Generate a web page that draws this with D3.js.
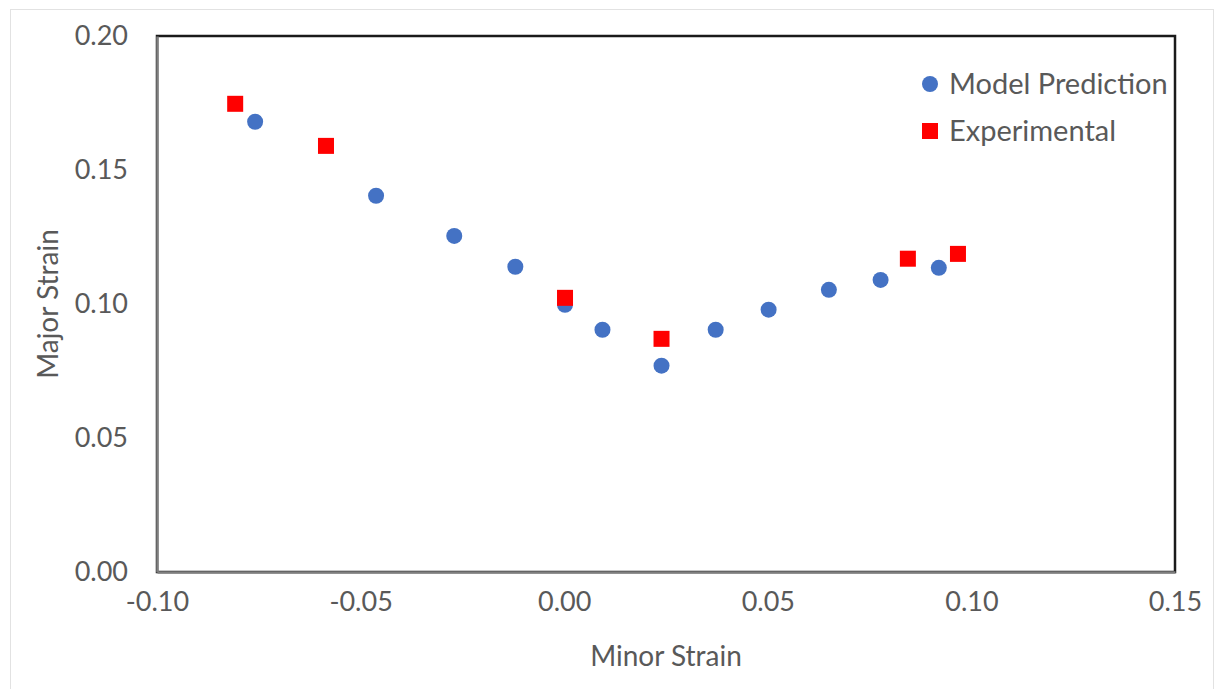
<!DOCTYPE html>
<html lang='en'>
    <head>
        <meta charset='utf-8'>
        <title>Major vs Minor Strain</title>
        <script src="https://d3js.org/d3.v7.min.js" charset='utf-8'></script>
        <style type='text/css'>
            body {
                margin: 0;
                background: #fff;
            }
            svg {
                display: block;
                font-family: Lato, 'Open Sans', sans-serif;
            }
            .tick text {
                fill: #595959;
                font-size: 27px;
            }
            .axis-title {
                fill: #595959;
                font-size: 28px;
            }
            .legend text {
                fill: #595959;
                font-size: 29px;
            }
        </style>
    </head>
    <body>
        <script type='text/javascript'>
            // data
            var modelMinor = [-0.0759, -0.0462, -0.0270, -0.0120, 0.0002, 0.0094, 0.0239, 0.0372, 0.0502, 0.0650, 0.0777, 0.0920];
            var modelMajor = [0.168, 0.1404, 0.1254, 0.1139, 0.0997, 0.0904, 0.0770, 0.0904, 0.0979, 0.1053, 0.1090, 0.1135];
            var expMinor = [-0.0808, -0.0585, 0.0002, 0.0239, 0.0844, 0.0967];
            var expMajor = [0.1747, 0.1590, 0.1023, 0.0870, 0.1169, 0.1187];
            var xTicks = [-0.10, -0.05, 0.00, 0.05, 0.10, 0.15];
            var yTicks = [0.00, 0.05, 0.10, 0.15, 0.20];
            var seriesNames = ['Model Prediction', 'Experimental'];

            var W = 1217, H = 689;
            var margin = {top: 36, right: 42, bottom: 117, left: 157};
            var width = W - margin.left - margin.right;
            var height = H - margin.top - margin.bottom;

            var svg = d3.select('body')
                .append('svg')
                .attr('width', W)
                .attr('height', H);

            // faint outer frame
            svg.append('rect')
                .attr('x', 10.5)
                .attr('y', 9.5)
                .attr('width', 1203)
                .attr('height', 700)
                .attr('fill', 'none')
                .attr('stroke', '#e2e2e2')
                .attr('stroke-width', 1);

            var g = svg.append('g')
                .attr('transform', 'translate(' + margin.left + ',' + margin.top + ')');

            var x = d3.scaleLinear().domain([-0.10, 0.15]).range([0, width]);
            var y = d3.scaleLinear().domain([0, 0.20]).range([height, 0]);
            var fmt = function(d) { return d.toFixed(2); };

            // plot area border
            g.append('rect')
                .attr('width', width)
                .attr('height', height)
                .attr('fill', 'none')
                .attr('stroke', '#1a1a1a')
                .attr('stroke-width', 2.5);

            var xAxis = g.append('g')
                .attr('transform', 'translate(0,' + height + ')')
                .call(d3.axisBottom(x).tickValues(xTicks).tickFormat(fmt).tickSize(0).tickPadding(20));
            xAxis.select('.domain').attr('stroke', '#7f7f7f').attr('stroke-width', 2.5);
            xAxis.selectAll('.tick text').attr('dy', '0.71em');

            var yAxis = g.append('g')
                .call(d3.axisLeft(y).tickValues(yTicks).tickFormat(fmt).tickSize(0).tickPadding(29));
            yAxis.select('.domain').attr('stroke', '#7f7f7f').attr('stroke-width', 2.5);
            svg.selectAll('.tick text').attr('font-family', 'Lato');

            // axis titles
            g.append('text')
                .attr('class', 'axis-title')
                .attr('x', width / 2)
                .attr('y', height + 94)
                .attr('text-anchor', 'middle')
                .text('Minor Strain');
            g.append('text')
                .attr('class', 'axis-title')
                .attr('transform', 'translate(' + (58 - margin.left) + ',' + (height / 2) + ') rotate(-90)')
                .attr('text-anchor', 'middle')
                .text('Major Strain');

            var model = modelMinor.map(function(d, i) { return {x: d, y: modelMajor[i]}; });
            var exp = expMinor.map(function(d, i) { return {x: d, y: expMajor[i]}; });

            g.selectAll('circle.model')
                .data(model)
                .enter()
                .append('circle')
                .attr('class', 'model')
                .attr('cx', function(d) { return x(d.x); })
                .attr('cy', function(d) { return y(d.y); })
                .attr('r', 8)
                .attr('fill', '#4472C4');

            g.selectAll('rect.exp')
                .data(exp)
                .enter()
                .append('rect')
                .attr('class', 'exp')
                .attr('x', function(d) { return x(d.x) - 8; })
                .attr('y', function(d) { return y(d.y) - 8; })
                .attr('width', 16)
                .attr('height', 16)
                .attr('fill', '#FF0000');

            // legend
            var legend = svg.append('g')
                .attr('class', 'legend')
                .attr('transform', 'translate(930,84)');
            legend.append('circle')
                .attr('r', 8)
                .attr('fill', '#4472C4');
            legend.append('rect')
                .attr('x', -8)
                .attr('y', 39)
                .attr('width', 16)
                .attr('height', 16)
                .attr('fill', '#FF0000');
            legend.selectAll('text')
                .data(seriesNames)
                .enter()
                .append('text')
                .attr('x', 19)
                .attr('y', function(d, i) { return i * 47; })
                .attr('dy', '0.35em')
                .text(function(d) { return d; });
        </script>
    </body>
</html>
